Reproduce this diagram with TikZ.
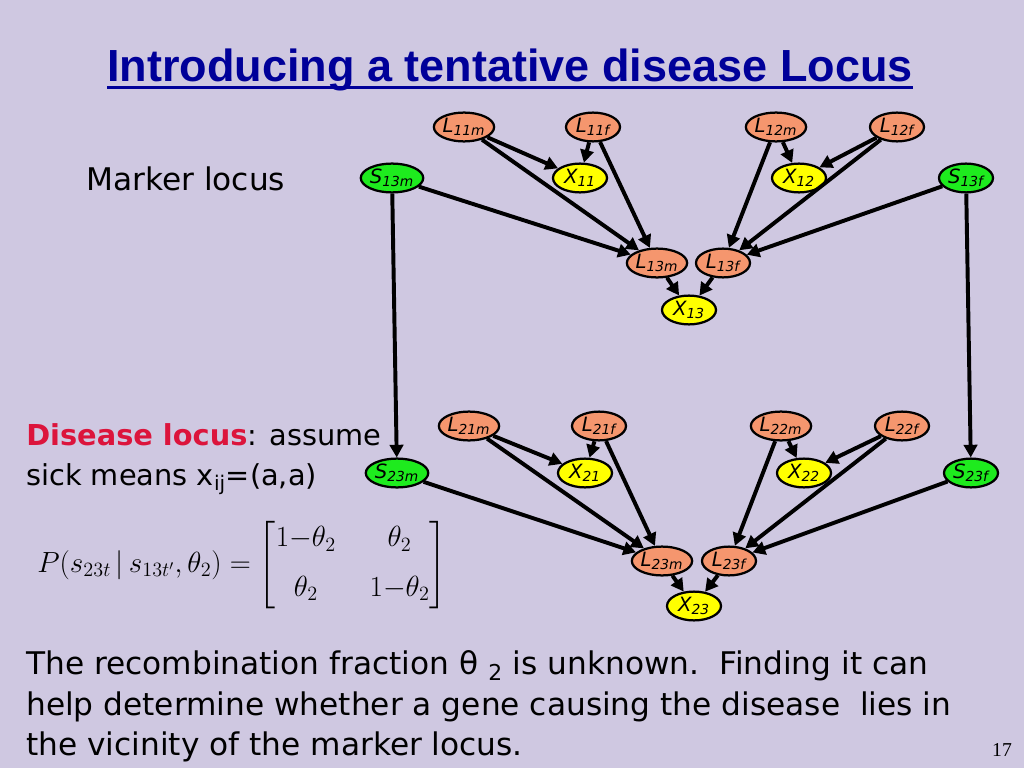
\documentclass[tikz,border=0pt]{standalone}
\usepackage{amsmath}
\usepackage{fontspec}
\setmainfont{DejaVu Sans}
\newfontfamily\titlefont{Liberation Sans}
\newfontfamily\pagefont{Liberation Serif}
\usetikzlibrary{shapes.geometric,arrows.meta}
\definecolor{slidebg}{RGB}{207,200,225}
\definecolor{titleblue}{RGB}{0,0,153}
\definecolor{diseasered}{RGB}{220,20,60}
\definecolor{locusorange}{RGB}{245,150,110}
\definecolor{markergreen}{RGB}{30,235,30}
\definecolor{genoyellow}{RGB}{255,255,0}
\newcommand{\lab}[2]{\textit{#1\textsubscript{#2}}}

\begin{document}
\begin{tikzpicture}[x=0.025cm,y=-0.025cm,
    gnode/.style={ellipse,draw,line width=1.6pt,minimum width=1.35cm,minimum height=0.72cm,inner sep=0pt,font=\fontsize{14}{14}\selectfont},
    lnode/.style={gnode,fill=locusorange},
    snode/.style={gnode,fill=markergreen},
    xnode/.style={gnode,fill=genoyellow},
    arc/.style={line width=2.8pt,-{Triangle[length=9pt,width=9.5pt]}},
    body/.style={anchor=base west,inner sep=0pt,font=\fontsize{22.2}{26}\selectfont}]
  \useasboundingbox[fill=slidebg] (0,0) rectangle (1024,768);
  % title
  \node[anchor=base,inner sep=0pt,text=titleblue,font=\titlefont\bfseries\fontsize{32}{36}\selectfont] (title) at (510,82) {Introducing a tentative disease Locus};
  \draw[line width=2.4pt,titleblue] ([yshift=-4pt]title.base west) -- ([yshift=-4pt]title.base east);
  % first generation
  \node[lnode] (L11m) at (464,127) {\lab{L}{11m}};
  \node[lnode] (L11f) at (593,127) {\lab{L}{11f}};
  \node[lnode] (L12m) at (776,127) {\lab{L}{12m}};
  \node[lnode] (L12f) at (897,127) {\lab{L}{12f}};
  \node[snode] (S13m) at (392,178) {\lab{S}{13m}};
  \node[xnode] (X11) at (580,178) {\lab{X}{11}};
  \node[xnode] (X12) at (799,178) {\lab{X}{12}};
  \node[snode] (S13f) at (966,178) {\lab{S}{13f}};
  \node[lnode] (L13m) at (657,263) {\lab{L}{13m}};
  \node[lnode] (L13f) at (723,263) {\lab{L}{13f}};
  \node[xnode] (X13) at (689,310) {\lab{X}{13}};
  % second generation
  \node[lnode] (L21m) at (469,426) {\lab{L}{21m}};
  \node[lnode] (L21f) at (599,426) {\lab{L}{21f}};
  \node[lnode] (L22m) at (781,426) {\lab{L}{22m}};
  \node[lnode] (L22f) at (902,426) {\lab{L}{22f}};
  \node[snode] (S23m) at (397,473) {\lab{S}{23m}};
  \node[xnode] (X21) at (585,473) {\lab{X}{21}};
  \node[xnode] (X22) at (804,473) {\lab{X}{22}};
  \node[snode] (S23f) at (971,473) {\lab{S}{23f}};
  \node[lnode] (L23m) at (662,561) {\lab{L}{23m}};
  \node[lnode] (L23f) at (729,561) {\lab{L}{23f}};
  \node[xnode] (X23) at (694,606) {\lab{X}{23}};
  % arcs
  \foreach \g in {1,2}{
    \foreach \a/\b in {L\g1m/X\g1, L\g1f/X\g1, L\g1m/L\g3m, L\g1f/L\g3m, S\g3m/L\g3m,
                       L\g2m/X\g2, L\g2f/X\g2, L\g2m/L\g3f, L\g2f/L\g3f, S\g3f/L\g3f,
                       L\g3m/X\g3, L\g3f/X\g3}
      \draw[arc] (\a) -- (\b);
  }
  \draw[arc] (S13m) -- (S23m);
  \draw[arc] (S13f) -- (S23f);
  % texts
  \node[body] (marker) at (86,190) {Marker locus};
  \node[body,font=\fontsize{20.5}{25}\selectfont] (disease1) at (26,445) {\textcolor{diseasered}{\bfseries Disease locus}: assume};
  \node[body,font=\fontsize{20.5}{25}\selectfont] (disease2) at (26,485) {sick means x\textsubscript{ij}=(a,a)};
  \node[anchor=west,inner sep=0pt,font=\fontsize{19.5}{23}\selectfont] (cpt) at (37,565)
    {$\setlength\arraycolsep{12pt}P(s_{23t}\,|\,s_{13t'},\theta_2)=\begin{bmatrix}1{-}\theta_2 & \theta_2\\[12pt] \theta_2 & 1{-}\theta_2\end{bmatrix}$};
  \node[body] (rec1) at (26,674) {The recombination fraction θ \textsubscript{2} is unknown.\ \ Finding it can};
  \node[body] (rec2) at (26,715) {help determine whether a gene causing the disease\ \ lies in};
  \node[body] (rec3) at (26,755) {the vicinity of the marker locus.};
  \node[font=\pagefont\fontsize{14}{14}\selectfont] (page) at (1002,750) {17};
\end{tikzpicture}
\end{document}
